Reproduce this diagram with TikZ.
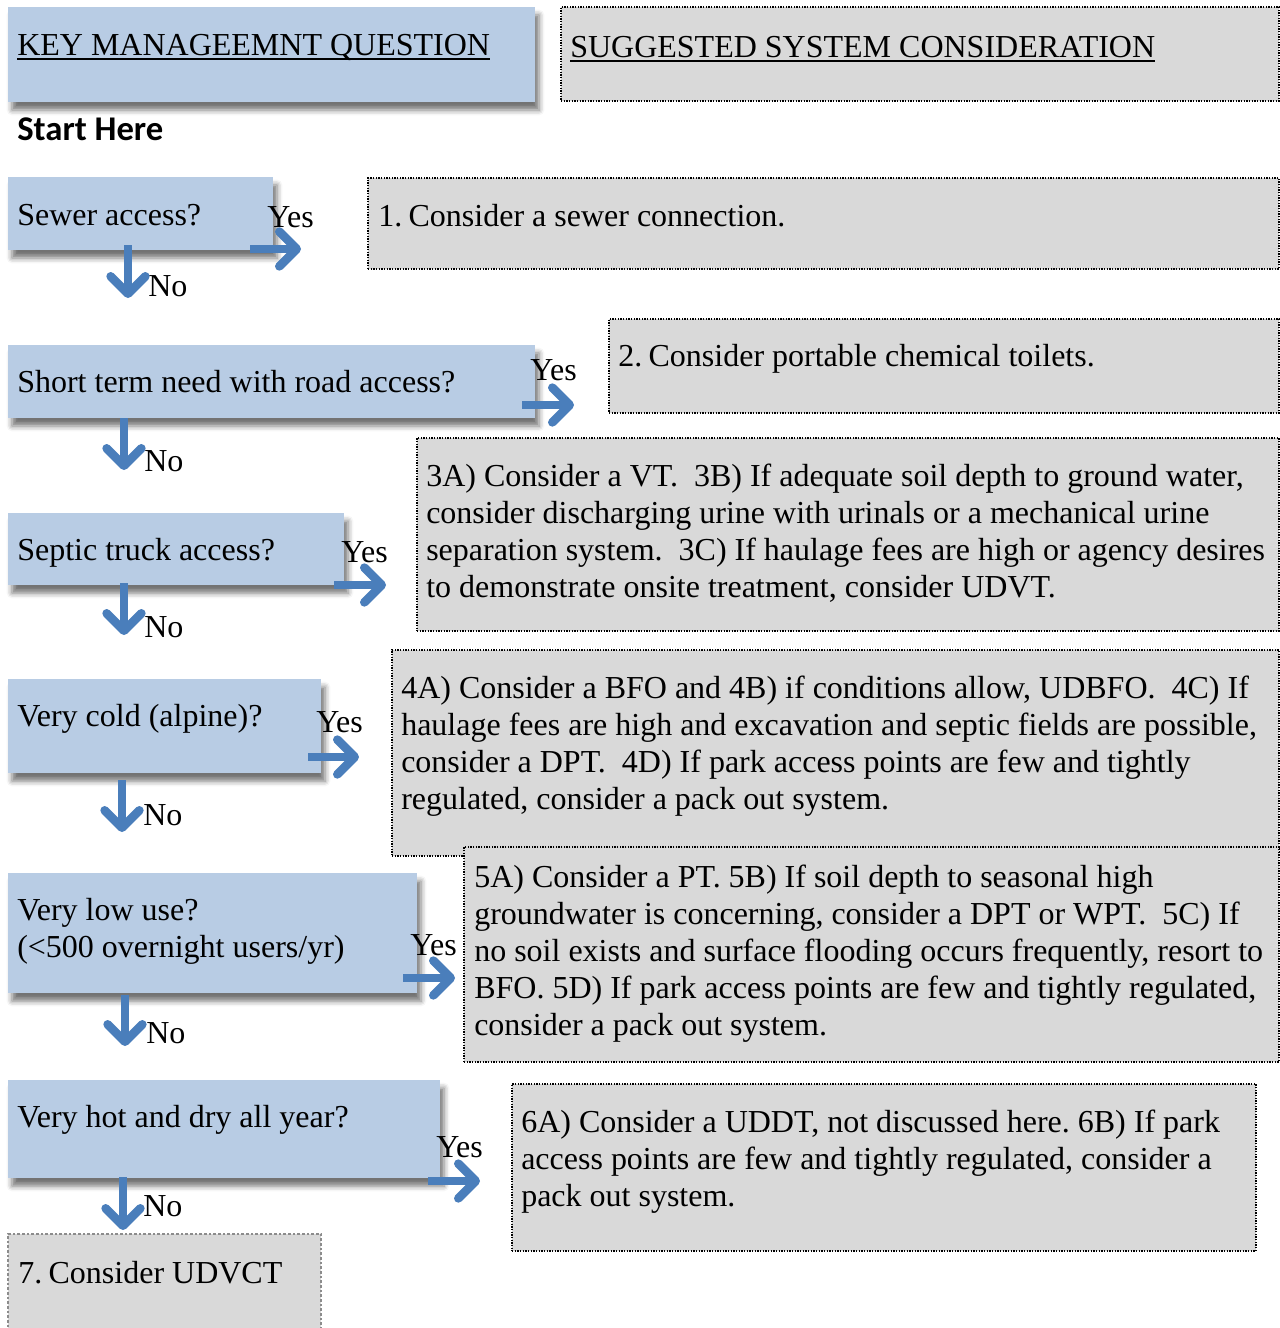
\documentclass[tikz,border=0pt]{standalone}
\usepackage{fontspec}
\setmainfont{Liberation Serif}
\newfontfamily\startfont{Carlito}
\usetikzlibrary{arrows.meta,fit,shadows.blur}
\definecolor{qblue}{HTML}{B8CCE4}
\definecolor{sgray}{HTML}{D9D9D9}
\definecolor{arrowblue}{HTML}{4A7EBB}
\definecolor{lgborder}{HTML}{8C8C8C}
\newcommand\bodyfont{\fontsize{24pt}{27.75pt}\selectfont}
\newcommand\txtpar[1]{\parbox[t]{900pt}{\bodyfont\frenchspacing #1}}
\newcommand\myul[1]{\setbox0\hbox{#1}\rlap{\rule[-3.4pt]{\wd0}{1.3pt}}\box0}
\newcommand\nsp{\hspace{0.2em}}
\begin{document}
\begin{tikzpicture}[x=0.75pt,y=-0.75pt,
  qbox/.style={fill=qblue, draw=none, inner sep=0pt,
    blur shadow={shadow xshift=3pt, shadow yshift=-6pt, shadow blur radius=4pt, shadow opacity=55}},
  sbox/.style={fill=sgray, draw=black, line width=1pt, dash pattern=on 1pt off 1pt, inner sep=0pt},
  lbox/.style={fill=sgray, draw=lgborder, line width=2pt, dash pattern=on 2pt off 1.5pt, inner sep=0pt},
  tx/.style={anchor=base west, inner sep=0pt, font=\bodyfont},
  arr/.style={draw=arrowblue, line width=6.5pt, -{Straight Barb[round, length=13pt, width=26pt]}}
]
\useasboundingbox (0,0) rectangle (1280,1328);

% header
\node[qbox, fit={(8,7)(535,102)}] (hq) {};
\node[sbox, fit={(561,7)(1279,101)}] (hs) {};
\node[tx] (hqt) at (17,55) {\myul{KEY MANAGEEMNT QUESTION}};
\node[tx] (hst) at (570,57) {\myul{SUGGESTED SYSTEM CONSIDERATION}};
\node[anchor=base west, inner sep=0pt, font=\startfont\bfseries\fontsize{26pt}{30pt}\selectfont] (start) at (17,140) {Start Here};

% suggestion boxes
\node[sbox, fit={(368,178)(1279,269)}] (s1) {};
\node[sbox, fit={(609,319)(1279,413)}] (s2) {};
\node[sbox, fit={(417,438)(1279,631)}] (s3) {};
\node[sbox, fit={(392,650)(1279,856)}] (s4) {};
\node[sbox, fit={(464,847)(1279,1062)}] (s5) {};
\node[sbox, fit={(512,1084)(1256,1251)}] (s6) {};
\node[lbox, fit={(8,1234)(321,1334)}] (s7) {};

\node[tx] (s1t) at (378,226) {1.\nsp Consider a sewer connection.};
\node[tx] (s2t) at (618,366) {2.\nsp Consider portable chemical toilets.};
\node[tx] (s3t) at (426,486) {\txtpar{3A) Consider a VT.\ \ 3B) If adequate soil depth to ground water,\\
consider discharging urine with urinals or a mechanical urine\\
separation system.\ \ 3C) If haulage fees are high or agency desires\\
to demonstrate onsite treatment, consider UDVT.}};
\node[tx] (s4t) at (401,698) {\txtpar{4A) Consider a BFO and 4B) if conditions allow, UDBFO.\ \ 4C) If\\
haulage fees are high and excavation and septic fields are possible,\\
consider a DPT.\ \ 4D) If park access points are few and tightly\\
regulated, consider a pack out system.}};
\node[tx] (s5t) at (474,887) {\txtpar{5A) Consider a PT. 5B) If soil depth to seasonal high\\
groundwater is concerning, consider a DPT or WPT.\ \ 5C) If\\
no soil exists and surface flooding occurs frequently, resort to\\
BFO. 5D) If park access points are few and tightly regulated,\\
consider a pack out system.}};
\node[tx] (s6t) at (521,1132) {\txtpar{6A) Consider a UDDT, not discussed here. 6B) If park\\
access points are few and tightly regulated, consider a\\
pack out system.}};
\node[tx] (s7t) at (18,1283) {7.\nsp Consider UDVCT};

% question boxes
\node[qbox, fit={(8,177)(273,250)}] (q1) {};
\node[qbox, fit={(8,345)(535,418)}] (q2) {};
\node[qbox, fit={(8,513)(344,585)}] (q3) {};
\node[qbox, fit={(8,679)(321,773)}] (q4) {};
\node[qbox, fit={(8,873)(417,993)}] (q5) {};
\node[qbox, fit={(8,1080)(440,1178)}] (q6) {};

\node[tx] (q1t) at (17,225) {Sewer access?};
\node[tx] (q2t) at (17,392) {Short term need with road access?};
\node[tx] (q3t) at (17,560) {Septic truck access?};
\node[tx] (q4t) at (17,726) {Very cold (alpine)?};
\node[tx] (q5t) at (17,920) {\txtpar{Very low use?\\(<500 overnight users/yr)}};
\node[tx] (q6t) at (17,1127) {Very hot and dry all year?};

% yes labels
\node[tx] (y1) at (267,227) {Yes};
\node[tx] (y2) at (530,380) {Yes};
\node[tx] (y3) at (341,562) {Yes};
\node[tx] (y4) at (316,732) {Yes};
\node[tx] (y5) at (410,955) {Yes};
\node[tx] (y6) at (436,1157) {Yes};
% no labels
\node[tx] (n1) at (148,296) {No};
\node[tx] (n2) at (144,471) {No};
\node[tx] (n3) at (144,637) {No};
\node[tx] (n4) at (143,825) {No};
\node[tx] (n5) at (146,1043) {No};
\node[tx] (n6) at (143,1216) {No};

% arrow coordinates
\coordinate (ya1) at (250,249); \coordinate (yb1) at (301,249);
\coordinate (ya2) at (522,405); \coordinate (yb2) at (574,405);
\coordinate (ya3) at (334,585); \coordinate (yb3) at (386,585);
\coordinate (ya4) at (308,757); \coordinate (yb4) at (359,757);
\coordinate (ya5) at (403,978); \coordinate (yb5) at (455,978);
\coordinate (ya6) at (428,1181); \coordinate (yb6) at (480,1181);
\coordinate (na1) at (128,245); \coordinate (nb1) at (128,298);
\coordinate (na2) at (124,418); \coordinate (nb2) at (124,470);
\coordinate (na3) at (124,583); \coordinate (nb3) at (124,635);
\coordinate (na4) at (122,780); \coordinate (nb4) at (122,832);
\coordinate (na5) at (125,995); \coordinate (nb5) at (125,1046);
\coordinate (na6) at (123,1177); \coordinate (nb6) at (123,1230);
\foreach \i in {1,...,6}{
  \draw[arr] (ya\i) -- (yb\i);
  \draw[arr] (na\i) -- (nb\i);
}
\end{tikzpicture}
\end{document}
